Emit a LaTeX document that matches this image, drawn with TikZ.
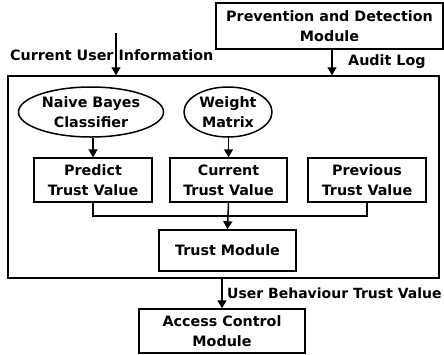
\documentclass[tikz,border=0pt]{standalone}
\usepackage{fontspec}
\setmainfont{DejaVu Sans}
\usetikzlibrary{arrows.meta,shapes.geometric}
\begin{document}
\begin{tikzpicture}[x=1pt,y=-1pt,
  every node/.style={font=\fontsize{14.3}{20}\selectfont\bfseries, align=center, inner sep=0pt},
  box/.style={draw, line width=1.5pt, rectangle},
  oval/.style={draw, line width=1.5pt, ellipse},
  lbl/.style={font=\fontsize{14.3}{20}\selectfont\bfseries},
  arr/.style={line width=1.5pt, -{Triangle[width=9pt,length=8pt]}},
  ln/.style={line width=1.5pt}]
\useasboundingbox (0,0) rectangle (444,354);

% outer frame holding the trust evaluation parts
\node[box, minimum width=431pt, minimum height=202pt] (frame) at (223.5,177) {};

% source modules
\node[box, minimum width=227pt, minimum height=46pt] (pdm) at (329.5,26) {Prevention and Detection\\Module};
\node[oval, minimum width=145pt, minimum height=50pt] (nb) at (91,112) {Naive Bayes\\Classifier};
\node[oval, minimum width=88pt, minimum height=50pt] (wm) at (228,112) {Weight\\Matrix};

% trust values
\node[box, minimum width=118pt, minimum height=44pt] (ptv) at (93,180) {Predict\\Trust Value};
\node[box, minimum width=117pt, minimum height=44pt] (ctv) at (228.5,180) {Current\\Trust Value};
\node[box, minimum width=118pt, minimum height=44pt] (prv) at (367,180) {Previous\\Trust Value};

\node[box, minimum width=137pt, minimum height=41pt] (tm) at (227.5,250.5) {Trust Module};
\node[box, minimum width=166pt, minimum height=44pt] (acm) at (222,331) {Access Control\\Module};

% labels
\node[lbl, anchor=west] (cui) at (10,55) {Current User Information};
\node[lbl, anchor=west] (al) at (348,62) {Audit Log};
\node[lbl, anchor=west, font=\fontsize{14}{20}\selectfont\bfseries] (ubt) at (227,293) {User Behaviour Trust Value};

% connectors
\coordinate (cuitop) at (116,33);
\draw[arr] (cuitop) -- (cuitop |- frame.north);
\coordinate (alsrc) at (332,49);
\draw[arr] (alsrc) -- (alsrc |- frame.north);
\draw[arr] (nb.south -| ptv.north) -- (ptv.north);
\draw[arr] (wm.south) -- (wm.south -| ctv.north) -- (ctv.north);
\draw[ln] (ptv.south) -- ++(0,13) -| (prv.south);
\draw[arr] (ctv.south) -- (tm.north);
\draw[arr] (acm.north |- frame.south) -- (acm.north);
\end{tikzpicture}
\end{document}
